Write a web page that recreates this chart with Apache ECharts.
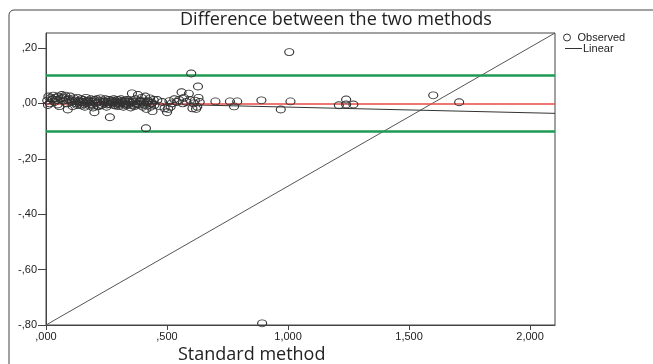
<!DOCTYPE html>
<html><head><meta charset="utf-8">
<script src="https://cdn.jsdelivr.net/npm/echarts@6/dist/echarts.min.js"></script>
<style>html,body{margin:0;padding:0;background:#fff}#c{width:653px;height:364px}</style>
</head><body><div id="c"></div>
<script>
// ---- data ----
const observedX = [0.005,0.01,0.015,0.02,0.025,0.03,0.035,0.04,0.045,0.05,0.055,0.06,0.065,0.07,0.075,0.08,0.085,0.09,0.095,0.1,0.105,0.11,0.115,
0.12,0.125,0.13,0.135,0.14,0.145,0.15,0.155,0.16,0.165,0.17,0.175,0.18,0.185,0.19,0.195,0.2,0.2,
0.205,0.21,0.215,0.22,0.225,0.23,0.235,0.24,0.245,0.25,0.255,0.26,0.264,0.265,0.27,0.275,0.28,0.285,0.29,0.295,0.3,
0.305,0.31,0.315,0.32,0.325,0.33,0.335,0.34,0.345,0.35,0.355,0.36,0.365,0.37,0.375,0.38,0.385,0.39,0.395,0.4,0.405,0.41,0.413,0.415,0.42,0.425,0.43,0.435,0.44,0.445,
0.46,0.47,0.48,0.49,0.5,0.505,0.51,0.515,0.52,0.53,0.54,0.55,0.56,0.565,0.57,0.58,0.59,0.595,0.6,0.605,0.61,0.615,0.62,0.625,0.628,0.63,0.635,
0.70,0.76,0.777,0.79,0.89,0.893,0.97,1.005,1.01,1.21,1.24,1.24,1.27,1.60,1.707,
0.128,0.142,0.158,0.172,0.188,0.212,0.228,0.242,0.258,0.272,0.288,0.302,0.318,0.332,0.348,0.362,0.378,0.392,0.408,0.422,0.438,
0.132,0.148,0.168,0.182,0.198,0.218,0.238,0.252,0.268,0.282,0.298,0.312,0.328,0.342,0.358,0.372,0.388,0.402,0.418,0.432,0.448,
0.008,0.028,0.048,0.068,0.088,0.108];
const observedY = [0.01,0.025,0.0,0.02,0.015,0.028,0.005,0.02,0.012,0.025,-0.01,0.018,0.03,0.01,0.022,0.028,0.0,-0.022,0.015,0.025,0.005,-0.01,0.018,
0.01,0.0,0.02,0.008,-0.005,0.015,0.005,0.012,-0.012,0.02,0.0,0.01,-0.008,0.015,0.005,-0.015,-0.032,0.012,
0.0,0.015,-0.01,0.008,0.018,-0.005,0.01,0.0,0.015,-0.012,0.005,0.012,-0.05,-0.003,0.01,0.0,0.015,-0.008,0.005,0.012,-0.01,
0.0,0.015,0.005,-0.012,0.01,0.0,0.012,-0.005,0.008,-0.015,0.036,0.005,-0.01,0.015,0.0,0.03,-0.005,0.01,0.02,-0.012,0.005,0.025,-0.09,-0.02,0.01,-0.005,0.018,0.0,-0.028,0.012,
0.012,-0.01,0.005,-0.018,-0.032,-0.02,0.008,-0.012,0.0,0.015,0.005,0.012,0.04,0.0,0.02,0.005,0.035,0.012,0.108,-0.018,0.0,0.01,-0.02,-0.012,0.061,0.02,0.005,
0.007,0.007,-0.011,0.007,0.011,-0.794,-0.022,0.185,0.007,-0.007,0.014,-0.004,-0.004,0.029,0.004,
-0.006,0.004,-0.002,0.006,-0.004,0.003,-0.007,0.005,-0.001,0.004,0.008,-0.005,0.003,-0.008,0.002,0.007,-0.003,0.005,-0.006,0.004,0.002,
0.006,-0.008,0.009,-0.002,0.007,-0.009,0.006,-0.004,0.007,-0.006,0.001,0.008,-0.004,0.005,-0.007,-0.004,0.008,-0.002,0.006,-0.012,-0.006,
-0.006,0.014,-0.004,0.02,0.012,0.008];
const limitLines = [0.1, -0.1];
const meanLine = 0;
const linearIntercept = 0.007;
const linearSlope = -0.0205;
const xMin = 0, xMax = 2.103, xInterval = 0.5;
const yMin = -0.8, yMax = 0.254, yInterval = 0.2;
const xTickValues = [0, 0.5, 1, 1.5, 2];
const xTickLabels = [',000', ',500', '1,000', '1,500', '2,000'];
const yTickValues = [-0.8, -0.6, -0.4, -0.2, 0, 0.2];
const yTickLabels = ['-,80', '-,60', '-,40', '-,20', ',00', ',20'];
const titleText = 'Difference between the two methods';
const xAxisTitle = 'Standard method';

// ---- build ----
function lab(vals, labs) {
  return function (v) {
    for (let i = 0; i < vals.length; i++) if (Math.abs(vals[i] - v) < 1e-6) return labs[i];
    return '';
  };
}
const points = observedX.map((x, i) => [x, observedY[i]]);
const linearData = [[xMin, linearIntercept + linearSlope * xMin], [xMax, linearIntercept + linearSlope * xMax]];
const diagData = [[xMin, yMin], [xMax, yMax]];

const legendText = {fontFamily: 'Liberation Sans', fontSize: 11, color: '#222'};
const chart = echarts.init(document.getElementById('c'), null, {renderer: 'canvas'});
chart.setOption({
  backgroundColor: '#fff',
  animation: false,
  title: {
    text: titleText, left: 331, top: 6, textAlign: 'center',
    textStyle: {fontFamily: 'Open Sans', fontSize: 18, fontWeight: 'normal', color: '#222'}
  },
  legend: [
    {
      orient: 'vertical', left: 563, top: 32, itemWidth: 17, itemHeight: 7, padding: 0,
      textStyle: Object.assign({padding: [0, 0, 0, -3]}, legendText),
      data: [{name: 'Observed', icon: 'circle', itemStyle: {color: '#fff', borderColor: '#333', borderWidth: 1}}]
    },
    {
      orient: 'vertical', left: 565, top: 43, itemWidth: 17, itemHeight: 1, padding: 0,
      textStyle: Object.assign({padding: [0, 0, 0, -4]}, legendText),
      data: [{name: 'Linear', icon: 'rect', itemStyle: {color: '#333'}}]
    }
  ],
  grid: {left: 46, right: 98, top: 33, bottom: 39, show: true, borderColor: '#444', borderWidth: 1},
  xAxis: {
    type: 'value', min: xMin, max: xMax, interval: xInterval,
    axisLine: {show: true, onZero: false, lineStyle: {color: '#444'}},
    axisTick: {show: true, length: 5, lineStyle: {color: '#444'}},
    splitLine: {show: false},
    axisLabel: {formatter: lab(xTickValues, xTickLabels), fontFamily: 'Liberation Sans', fontSize: 11, color: '#222', margin: 6, showMaxLabel: false},
  },
  yAxis: {
    type: 'value', min: yMin, max: yMax, interval: yInterval,
    axisLine: {show: true, onZero: false, lineStyle: {color: '#444'}},
    axisTick: {show: true, length: 8, lineStyle: {color: '#444'}},
    splitLine: {show: false},
    axisLabel: {formatter: lab(yTickValues, yTickLabels), fontFamily: 'Liberation Sans', fontSize: 11, color: '#222', margin: 9, showMaxLabel: false},
  },
  graphic: [
    {type: 'rect', shape: {x: 9, y: 10, width: 700, height: 400, r: 5}, style: {fill: null, stroke: '#444', lineWidth: 1}, z: -1},
    {type: 'text', left: 178, top: 346, style: {text: xAxisTitle, font: '18px "Open Sans"', fill: '#222'}}
  ],
  series: [
    {
      name: 'Observed', type: 'scatter', data: points, symbol: 'circle', symbolSize: [9, 7],
      itemStyle: {color: 'rgba(255,255,255,0)', borderColor: '#333', borderWidth: 1, opacity: 1},
      z: 5,
      markLine: {
        silent: true, symbol: 'none', label: {show: false},
        data: [
          {yAxis: limitLines[0], lineStyle: {color: '#1f9a52', width: 2.5, type: 'solid'}},
          {yAxis: limitLines[1], lineStyle: {color: '#1f9a52', width: 2.5, type: 'solid'}},
          {yAxis: meanLine, lineStyle: {color: '#e84a45', width: 1.5, type: 'solid'}}
        ]
      }
    },
    {
      name: 'Linear', type: 'line', data: linearData, symbol: 'none', z: 4,
      lineStyle: {color: '#333', width: 1}, itemStyle: {color: '#333'}
    },
    {
      name: 'diag', type: 'line', data: diagData, symbol: 'none', z: 3,
      lineStyle: {color: '#555', width: 1}
    }
  ]
});
</script>
</body></html>
